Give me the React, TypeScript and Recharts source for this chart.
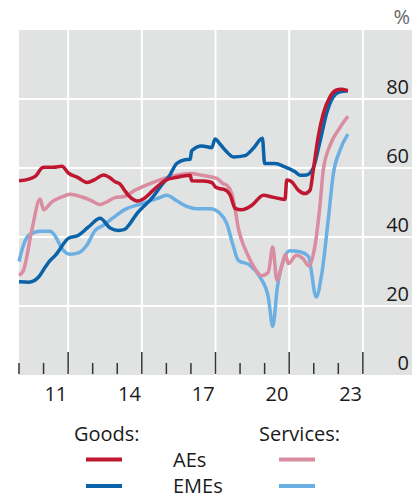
import { CartesianGrid, Line, LineChart, XAxis, YAxis } from 'recharts';

// [year, %]
const goodsAEs: [number, number][] = [
  [2010.0, 56.3], [2010.4, 56.8], [2010.7, 57.8], [2010.9, 59.8], [2011.0, 60.2],
  [2011.4, 60.2], [2011.75, 60.5], [2012.0, 58.6], [2012.4, 57.2], [2012.76, 55.8],
  [2013.1, 56.7], [2013.44, 58.0], [2013.7, 57.2], [2013.91, 56.0], [2014.12, 55.3],
  [2014.3, 53.5], [2014.45, 52.1], [2014.7, 50.7], [2014.85, 50.4], [2015.07, 51.1],
  [2015.47, 53.6], [2015.95, 56.4], [2016.42, 57.3], [2016.97, 57.9], [2017.03, 56.3],
  [2017.5, 56.2], [2017.85, 55.8], [2018.0, 54.5], [2018.2, 54.0], [2018.35, 53.8],
  [2018.6, 52.1], [2018.8, 48.3], [2019.07, 47.9], [2019.48, 49.2], [2019.95, 52.1],
  [2020.3, 51.6], [2020.83, 50.9], [2020.9, 56.5], [2021.1, 56.0], [2021.37, 53.6],
  [2021.64, 52.6], [2021.85, 53.6], [2021.98, 59.4], [2022.18, 69.0], [2022.39, 75.8],
  [2022.66, 80.6], [2022.93, 82.6], [2023.1, 82.8], [2023.39, 82.4],
];

const goodsEMEs: [number, number][] = [
  [2010.0, 27.0], [2010.4, 26.9], [2010.8, 28.4], [2011.07, 31.3], [2011.27, 33.2],
  [2011.47, 34.6], [2012.01, 39.6], [2012.42, 40.5], [2012.83, 42.9], [2013.3, 45.4],
  [2013.71, 42.6], [2014.05, 41.9], [2014.3, 42.2], [2014.52, 43.9], [2014.8, 46.8],
  [2015.07, 48.8], [2015.34, 50.7], [2015.88, 55.7], [2016.1, 57.5], [2016.42, 61.3],
  [2016.76, 62.4], [2016.97, 62.5], [2017.03, 65.0], [2017.44, 66.4], [2017.85, 65.9],
  [2017.98, 68.4], [2018.2, 66.8], [2018.39, 65.2], [2018.73, 63.2], [2019.2, 63.6],
  [2019.54, 65.7], [2019.91, 68.6], [2020.0, 61.3], [2020.42, 61.3], [2020.83, 60.3],
  [2021.24, 58.9], [2021.44, 57.9], [2021.71, 58.0], [2021.98, 60.0], [2022.25, 67.5],
  [2022.53, 76.0], [2022.79, 80.6], [2023.07, 82.1], [2023.39, 82.4],
];

const servicesAEs: [number, number][] = [
  [2010.0, 28.9], [2010.18, 30.3], [2010.52, 41.9], [2010.86, 51.0], [2011.0, 47.9],
  [2011.34, 50.2], [2011.75, 51.6], [2012.08, 52.4], [2012.56, 51.6], [2012.9, 50.7],
  [2013.3, 49.4], [2013.58, 50.2], [2013.91, 51.4], [2014.32, 51.8], [2014.66, 53.3],
  [2015.34, 55.5], [2015.88, 56.9], [2016.42, 57.9], [2016.97, 58.4], [2017.51, 57.8],
  [2018.05, 57.0], [2018.3, 55.5], [2018.46, 55.0], [2018.66, 52.6], [2018.8, 48.0],
  [2018.93, 42.5], [2019.07, 39.0], [2019.3, 35.0], [2019.61, 30.8], [2019.88, 28.8],
  [2020.15, 29.8], [2020.33, 37.1], [2020.5, 27.5], [2020.7, 31.6], [2020.85, 35.0],
  [2020.96, 32.3], [2021.3, 34.7], [2021.57, 33.7], [2021.8, 31.6], [2022.05, 37.5],
  [2022.25, 49.0], [2022.39, 59.5], [2022.66, 66.5], [2023.0, 71.0], [2023.39, 75.0],
];

const servicesEMEs: [number, number][] = [
  [2010.0, 32.9], [2010.18, 37.6], [2010.4, 40.5], [2010.86, 41.7], [2011.27, 41.7],
  [2011.47, 40.3], [2011.75, 36.6], [2012.08, 35.0], [2012.42, 35.4], [2012.76, 37.6],
  [2013.1, 41.9], [2013.44, 43.4], [2013.84, 45.6], [2014.32, 48.0], [2014.93, 49.5],
  [2015.61, 51.1], [2016.02, 52.1], [2016.42, 50.5], [2016.83, 48.9], [2017.24, 48.2],
  [2017.78, 48.2], [2018.19, 46.8], [2018.46, 43.9], [2018.7, 38.0], [2018.93, 33.2],
  [2019.41, 31.8], [2019.81, 28.4], [2020.15, 22.6], [2020.33, 14.1], [2020.52, 25.5],
  [2020.76, 33.2], [2021.03, 36.0], [2021.44, 35.7], [2021.78, 34.4], [2022.1, 22.6],
  [2022.32, 29.0], [2022.59, 45.0], [2022.79, 58.0], [2023.07, 65.2], [2023.39, 69.8],
];

const yearTicks = [2010, 2011, 2012, 2013, 2014, 2015, 2016, 2017, 2018, 2019, 2020, 2021, 2022, 2023, 2024];
const majorYears = [2012, 2015, 2018, 2021, 2024];
const labelTicks = [2011.5, 2014.5, 2017.5, 2020.5, 2023.5];
const yTicks = [0, 20, 40, 60, 80];

const FONT = '"Open Sans", sans-serif';
const TEXT = '#1a1a1a';

const toPoints = (pairs: [number, number][]) => pairs.map(([x, y]) => ({ x, y }));

const XTick = (props: any) => {
  const { x, y, payload } = props;
  const v = payload.value;
  if (Number.isInteger(v)) {
    const len = majorYears.includes(v) ? 22 : 11;
    return <line x1={x} x2={x} y1={y - 1} y2={y - 1 - len} stroke="#333" strokeWidth={1.5} />;
  }
  return (
    <text x={x} y={y + 26} textAnchor="middle" fontFamily={FONT} fontSize={20} fill={TEXT}>
      {String(Math.floor(v) % 100)}
    </text>
  );
};

const YTick = (props: any) => {
  const { x, y, payload } = props;
  return (
    <text x={x} y={y - 5} textAnchor="end" fontFamily={FONT} fontSize={20} fill={TEXT}>
      {payload.value}
    </text>
  );
};

export default function App() {
  return (
    <div style={{ position: 'absolute', left: 0, top: 0, width: 420, height: 500 }}>
      <LineChart width={420} height={500} margin={{ top: 30, right: 8, left: 19, bottom: 95 }}>
        <CartesianGrid
          fill="#e1e2e2"
          stroke="#ffffff"
          strokeWidth={2}
          horizontalValues={[20, 40, 60, 80]}
          verticalValues={majorYears}
        />
        <XAxis
          type="number"
          dataKey="x"
          domain={[2010, 2026]}
          ticks={[...yearTicks, ...labelTicks]}
          interval={0}
          height={30}
          tickSize={0}
          tickMargin={0}
          axisLine={false}
          tickLine={false}
          tick={<XTick />}
        />
        <YAxis
          orientation="right"
          mirror
          width={60}
          domain={[0, 100]}
          ticks={yTicks}
          interval={0}
          tickSize={0}
          tickMargin={3}
          axisLine={false}
          tickLine={false}
          tick={<YTick />}
        />
        <Line data={toPoints(servicesEMEs)} dataKey="y" type="monotone" stroke="#6cb0e3" strokeWidth={3.5} dot={false} isAnimationActive={false} />
        <Line data={toPoints(servicesAEs)} dataKey="y" type="monotone" stroke="#da8ca1" strokeWidth={3.5} dot={false} isAnimationActive={false} />
        <Line data={toPoints(goodsEMEs)} dataKey="y" type="monotone" stroke="#0a63a9" strokeWidth={3.5} dot={false} isAnimationActive={false} />
        <Line data={toPoints(goodsAEs)} dataKey="y" type="monotone" stroke="#bf1730" strokeWidth={3.5} dot={false} isAnimationActive={false} />
      </LineChart>
      <svg width={420} height={500} style={{ position: 'absolute', left: 0, top: 0, pointerEvents: 'none' }}>
        <text x={410} y={24} textAnchor="end" fontFamily={FONT} fontSize={20} fill="#666">%</text>
        <g fontFamily={FONT} fontSize={20} fill={TEXT}>
          <text x={74} y={441}>Goods:</text>
          <text x={259} y={441}>Services:</text>
          <text x={173} y={467}>AEs</text>
          <text x={173} y={493}>EMEs</text>
        </g>
        <line x1={86} x2={122} y1={459.5} y2={459.5} stroke="#bf1730" strokeWidth={4} />
        <line x1={86} x2={122} y1={486} y2={486} stroke="#0a63a9" strokeWidth={4} />
        <line x1={279} x2={315} y1={459.5} y2={459.5} stroke="#da8ca1" strokeWidth={4} />
        <line x1={279} x2={315} y1={486} y2={486} stroke="#6cb0e3" strokeWidth={4} />
      </svg>
    </div>
  );
}
